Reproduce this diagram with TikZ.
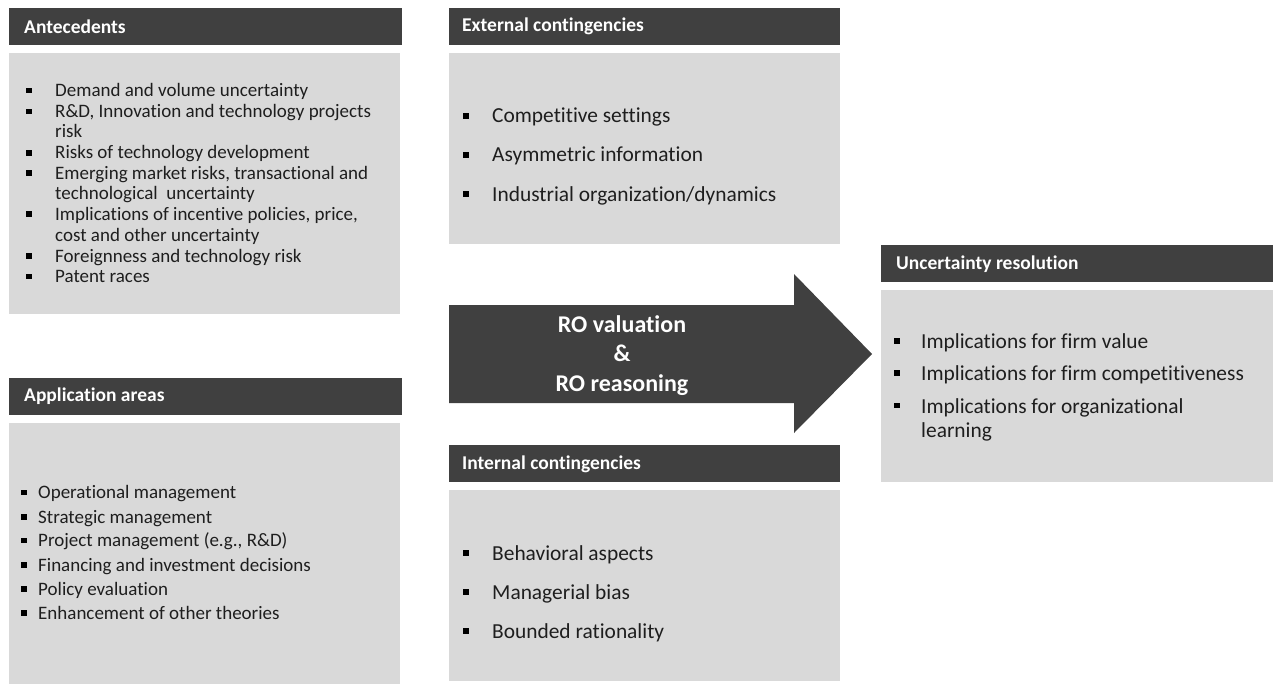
\documentclass[tikz,border=0pt]{standalone}
\usepackage{fontspec}
\setmainfont{Carlito}[Ligatures={NoCommon,TeX}]
\definecolor{hdrgray}{HTML}{404040}
\definecolor{bodygray}{HTML}{D9D9D9}
\definecolor{txt}{HTML}{1E1E1E}
\begin{document}
\begin{tikzpicture}[x=1pt,y=-1pt,
  hdr/.style={fill=hdrgray},
  bodybox/.style={fill=bodygray},
  hdrtext/.style={anchor=west, text=white, inner sep=0, font=\bfseries\fontsize{19.5}{22}\selectfont},
  smalltxt/.style={anchor=base west, inner sep=0, text=txt, font=\fontsize{19}{22}\selectfont},
  bigtxt/.style={anchor=base west, inner sep=0, text=txt, font=\fontsize{21.4}{24}\selectfont},
  blt/.style={fill=black, minimum size=5.5pt, inner sep=0, draw=none}
]
\fill[white] (0,0) rectangle (1280,690);
\useasboundingbox (0,0) rectangle (1280,690);

% ---------- Antecedents ----------
\fill[hdr] (9,8) rectangle (402,45);
\node[hdrtext] (antH) at (24,27) {Antecedents};
\fill[bodybox] (9,53) rectangle (400,314);
\foreach \y/\t [count=\i] in {
  96.5/{Demand and volume uncertainty},
  117.5/{R\&D, Innovation and technology projects},
  138/{risk},
  159/{Risks of technology development},
  179/{Emerging market risks, transactional and},
  199.5/{technological\ \ uncertainty},
  220/{Implications of incentive policies, price,},
  241/{cost and other uncertainty},
  262/{Foreignness and technology risk},
  282.5/{Patent races}}
  \node[smalltxt] (antT\i) at (55,\y) {\t};
\foreach \y [count=\i] in {90.5,111.5,153,173,214,256,276.5}
  \node[blt] (antB\i) at (29,\y) {};

% ---------- Application areas ----------
\fill[hdr] (9,378) rectangle (402,415);
\node[hdrtext] (appH) at (24,396.5) {Application areas};
\fill[bodybox] (9,423) rectangle (400,684);
\foreach \y/\t [count=\i] in {
  498.5/{Operational management},
  523/{Strategic management},
  546.5/{Project management (e.g., R\&D)},
  571/{Financing and investment decisions},
  595/{Policy evaluation},
  619/{Enhancement of other theories}}
  {\node[smalltxt] (appT\i) at (38,\y) {\t};
   \node[blt] (appB\i) at (24,\y-6) {};}

% ---------- External contingencies ----------
\fill[hdr] (449,8) rectangle (840,45);
\node[hdrtext] (extH) at (462,26.5) {External contingencies};
\fill[bodybox] (449,53) rectangle (840,244);
\foreach \y/\t [count=\i] in {
  123/{Competitive settings},
  162/{Asymmetric information},
  201/{Industrial organization/dynamics}}
  {\node[bigtxt] (extT\i) at (492,\y) {\t};
   \node[blt] (extB\i) at (466,\y-7) {};}

% ---------- Internal contingencies ----------
\fill[hdr] (449,445) rectangle (840,482);
\node[hdrtext] (intH) at (462,464) {Internal contingencies};
\fill[bodybox] (449,490) rectangle (840,681);
\foreach \y/\t [count=\i] in {
  560/{Behavioral aspects},
  599/{Managerial bias},
  638/{Bounded rationality}}
  {\node[bigtxt] (intT\i) at (492,\y) {\t};
   \node[blt] (intB\i) at (466,\y-7) {};}

% ---------- Uncertainty resolution ----------
\fill[hdr] (881,245) rectangle (1273,282);
\node[hdrtext] (uncH) at (896,264) {Uncertainty resolution};
\fill[bodybox] (881,290) rectangle (1273,482);
\foreach \y/\t [count=\i] in {
  348.5/{Implications for firm value},
  380.5/{Implications for firm competitiveness},
  413/{Implications for organizational},
  437/{learning}}
  \node[bigtxt] (uncT\i) at (921,\y) {\t};
\foreach \y [count=\i] in {341,373,405.5}
  \node[blt] (uncB\i) at (897,\y) {};

% ---------- Central arrow ----------
\fill[hdrgray] (449,305) -- (794,305) -- (794,274) -- (872,354)
  -- (794,433) -- (794,403) -- (449,403) -- cycle;
\node[align=center, text=white, inner sep=0,
  font=\bfseries\fontsize{24}{29.5}\selectfont] (roT) at (622,355.5)
  {RO valuation\\\&\\RO reasoning};
\end{tikzpicture}
\end{document}
